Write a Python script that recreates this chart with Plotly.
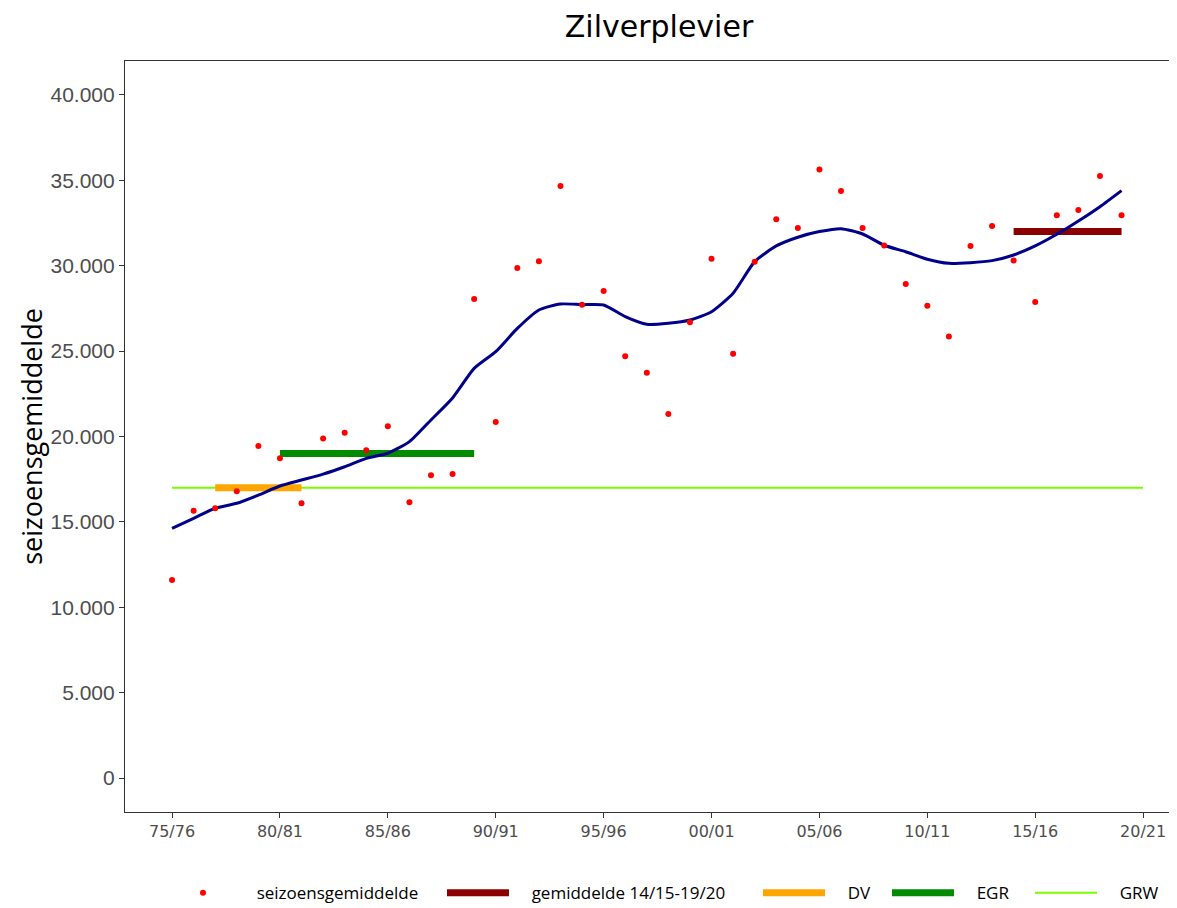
import plotly.graph_objects as go

# seasons as start year (1975 = 75/76)
seasons = list(range(1975, 2020))
season_values = [
    11600, 15650, 15800, 16800, 19450, 18720, 16090, 19890, 20220, 19190,
    20600, 16150, 17730, 17800, 28050, 20850, 29870, 30260, 34670, 27720,
    28520, 24700, 23740, 21320, 26690, 30410, 24850, 30240, 32720, 32210,
    35630, 34380, 32210, 31180, 28930, 27660, 25850, 31160, 32330, 30300,
    27880, 32950, 33270, 35260, 32950,
]
trend_values = [
    14620, 15210, 15800, 16090, 16570, 17100, 17450, 17800, 18230, 18720,
    19020, 19700, 20970, 22260, 23990, 24970, 26330, 27410, 27760, 27720,
    27700, 27020, 26570, 26630, 26820, 27310, 28390, 30240, 31160, 31670,
    32000, 32170, 31860, 31200, 30820, 30380, 30140, 30180, 30300, 30630,
    31160, 31840, 32620, 33460, 34400,
]

mean_x = [2014, 2019]
mean_y = [32000, 32000]
dv_x = [1977, 1981]
dv_y = [17000, 17000]
egr_x = [1980, 1989]
egr_y = [19000, 19000]
grw_x = [1975, 2020]
grw_y = [17000, 17000]

xtick_vals = list(range(1975, 2021, 5))
xtick_text = ["75/76", "80/81", "85/86", "90/91", "95/96", "00/01", "05/06", "10/11", "15/16", "20/21"]
ytick_vals = [0, 5000, 10000, 15000, 20000, 25000, 30000, 35000, 40000]
ytick_text = ["0", "5.000", "10.000", "15.000", "20.000", "25.000", "30.000", "35.000", "40.000"]

pad = "\u00a0" * 4  # extra gap between legend symbol and text

fig = go.Figure()
fig.add_trace(go.Scatter(x=grw_x, y=grw_y, mode="lines", name=pad + "GRW",
                         line=dict(color="#7CFC00", width=2), legend="legend5"))
fig.add_trace(go.Scatter(x=dv_x, y=dv_y, mode="lines", name=pad + "DV",
                         line=dict(color="#FFA500", width=7), legend="legend3"))
fig.add_trace(go.Scatter(x=egr_x, y=egr_y, mode="lines", name=pad + "EGR",
                         line=dict(color="#008B00", width=7), legend="legend4"))
fig.add_trace(go.Scatter(x=mean_x, y=mean_y, mode="lines", name=pad + "gemiddelde 14/15-19/20",
                         line=dict(color="#8B0000", width=7), legend="legend2"))
fig.add_trace(go.Scatter(x=seasons, y=trend_values, mode="lines", name="trend",
                         line=dict(color="#00008B", width=3, shape="spline", smoothing=0.6),
                         showlegend=False))
fig.add_trace(go.Scatter(x=seasons, y=season_values, mode="markers", name=pad + "seizoensgemiddelde",
                         marker=dict(color="#FF0000", size=6), legend="legend"))

axis_col = "#333333"
leg_font = dict(family="Open Sans", size=17, color="black")
leg_y = 0.0165


def leg(xp):
    return dict(x=xp, xanchor="left", y=leg_y, yanchor="middle", yref="container", font=leg_font,
                itemwidth=62, bgcolor="rgba(0,0,0,0)", borderwidth=0)


fig.update_layout(
    width=1169, height=900,
    paper_bgcolor="white", plot_bgcolor="white",
    margin=dict(l=117, r=0, t=53, b=96),
    title=dict(text="Zilverplevier", x=0.5569, xanchor="center", y=0.979, yanchor="middle",
               font=dict(family="DejaVu Sans", size=30, color="black")),
    showlegend=True,
    legend=leg(0.0399),
    legend2=leg(0.3013),
    legend3=leg(0.6017),
    legend4=leg(0.7243),
    legend5=leg(0.8603),
    xaxis=dict(range=[1972.82, 2021.57], tickvals=xtick_vals, ticktext=xtick_text,
               showgrid=False, zeroline=False, showline=True, linecolor=axis_col, linewidth=1.2,
               mirror=True, ticks="outside", ticklen=5, tickcolor=axis_col, tickwidth=1.2,
               tickfont=dict(family="DejaVu Sans", size=16, color="#4D4D4D")),
    yaxis=dict(range=[-1990, 41990], tickvals=ytick_vals, ticktext=ytick_text,
               showgrid=False, zeroline=False, showline=True, linecolor=axis_col, linewidth=1.2,
               ticks="outside", ticklen=5, tickcolor=axis_col, tickwidth=1.2,
               tickfont=dict(family="Liberation Sans", size=21, color="#4D4D4D"),
               title=dict(text="seizoensgemiddelde", standoff=0,
                          font=dict(family="Open Sans", size=27, color="black"))),
)

fig.write_html("out.html")
